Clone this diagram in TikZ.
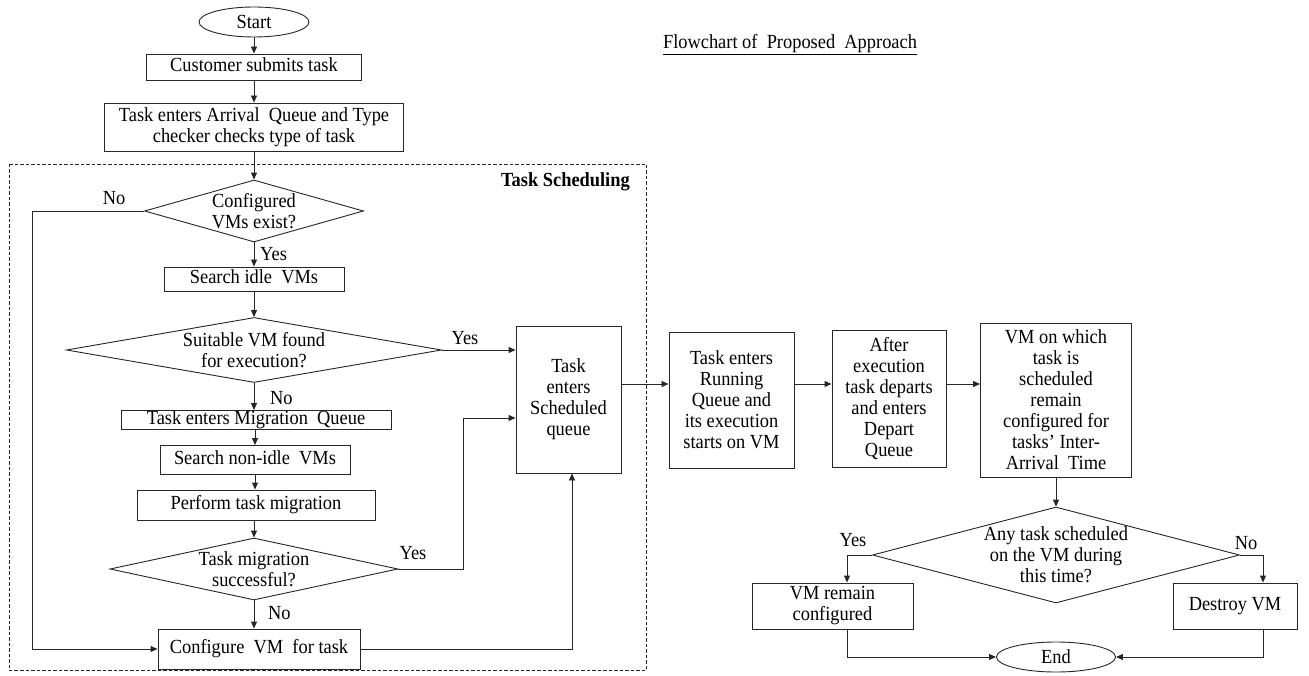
\documentclass[tikz,border=0pt]{standalone}
\usepackage{fontspec}
\setmainfont{Liberation Serif}[FakeStretch=0.92]
\usetikzlibrary{shapes.geometric, arrows.meta}
\newcommand\figfont{\fontsize{20}{21}\selectfont}
\begin{document}
\begin{tikzpicture}[x=1pt,y=-1pt,
  base/.style={draw=black!85, line width=0.9pt, font=\figfont, inner sep=0pt, align=center},
  box/.style={base, rectangle},
  sbox/.style={box, text height=13pt, text depth=4pt},
  term/.style={base, ellipse},
  dia/.style={draw=black!85, line width=0.9pt, diamond, inner sep=0pt},
  txt/.style={font=\figfont, align=center, inner sep=0pt},
  lbl/.style={font=\figfont, inner sep=0pt},
  arr/.style={draw=black!85, line width=0.9pt, -{Triangle[length=7pt,width=6pt]}},
  dashbox/.style={draw=black!85, line width=0.9pt, dash pattern=on 3.5pt off 2pt}
]
\useasboundingbox (0,0) rectangle (1309,676);
\fill[white] (0,0) rectangle (1309,676);

% Task scheduling region
\draw[dashbox] (9,164) rectangle (646,670);
\node[lbl, font=\figfont\bfseries, anchor=east] (tslabel) at (630,182) {Task Scheduling};

% title
\node[lbl] (title) at (790,45) {\underline{Flowchart of\ \ Proposed\ \ Approach}};

% left column
\node[term, minimum width=110pt, minimum height=30pt] (start) at (254,22) {Start};
\node[sbox, minimum width=215pt, minimum height=26pt] (cust) at (254,67) {Customer submits task};
\node[box, minimum width=299pt, minimum height=48pt] (arrival) at (254,127) {Task enters Arrival\ \ Queue and Type\\checker checks type of task};

\node[dia, minimum width=219pt, minimum height=62pt] (cfg) at (254,211) {};
\node[txt] (cfgt) at (cfg) {Configured\\VMs exist?};

\node[sbox, minimum width=180pt, minimum height=24pt] (idle) at (254,279) {Search idle\ \ VMs};

\node[dia, minimum width=375pt, minimum height=65pt] (suit) at (254,350) {};
\node[txt] (suitt) at (suit) {Suitable VM found\\for execution?};

\node[sbox, minimum width=270pt, minimum height=19pt, text height=12pt, text depth=3pt] (mig) at (256,420) {Task enters Migration\ \ Queue};
\node[sbox, minimum width=190pt, minimum height=29pt] (nonidle) at (255,460) {Search non-idle\ \ VMs};
\node[sbox, minimum width=238pt, minimum height=30pt] (perf) at (256,505) {Perform task migration};

\node[dia, minimum width=288pt, minimum height=62pt] (tm) at (254,569) {};
\node[txt] (tmt) at (tm) {Task migration\\successful?};

\node[sbox, minimum width=202pt, minimum height=40pt] (conf) at (259,649) {Configure\ \ VM\ \ for task};

\node[box, minimum width=105pt, minimum height=147pt] (sched) at (568.5,399.5) {Task\\enters\\Scheduled\\queue};

% right part
\node[box, minimum width=125pt, minimum height=136pt] (run) at (731.5,400) {Task enters\\Running\\Queue and\\its execution\\starts on VM};
\node[box, minimum width=114pt, minimum height=137pt] (dep) at (889,398.5) {After\\execution\\task departs\\and enters\\Depart\\Queue};
\node[box, minimum width=151pt, minimum height=154pt] (vm) at (1056,400) {VM on which\\task is\\scheduled\\remain\\configured for\\tasks' Inter-\\Arrival\ \ Time};

\node[dia, minimum width=367pt, minimum height=96pt] (any) at (1056,555) {};
\node[txt] (anyt) at (any) {Any task scheduled\\on the VM during\\this time?};

\node[box, minimum width=161pt, minimum height=46pt] (remain) at (832.5,606) {VM remain\\configured};
\node[sbox, minimum width=124pt, minimum height=46pt] (destroy) at (1235,606) {Destroy VM};
\node[term, minimum width=119pt, minimum height=30pt] (end) at (1056,657) {End};

% labels
\node[lbl] (lno1) at (114,198) {No};
\node[lbl, anchor=west] (lyes1) at (260,254) {Yes};
\node[lbl] (lyes2) at (465,338) {Yes};
\node[lbl, anchor=west] (lno2) at (270,398) {No};
\node[lbl] (lyes3) at (413,553) {Yes};
\node[lbl, anchor=west] (lno3) at (268,613) {No};
\node[lbl] (lyes4) at (853,540) {Yes};
\node[lbl] (lno4) at (1246,543) {No};

% connectors, left column
\draw[arr] (start) -- (cust);
\draw[arr] (cust) -- (arrival);
\draw[arr] (arrival) -- (cfg);
\draw[arr] (cfg) -- (idle);
\draw[arr] (idle) -- (suit);
\draw[arr] (suit.south) -- (suit.south |- mig.north);
\draw[arr] (mig.south -| nonidle.north) -- (nonidle.north);
\draw[arr] (nonidle.south) -- (nonidle.south |- perf.north);
\draw[arr] (perf.south -| tm.north) -- (tm.north);
\draw[arr] (tm.south) -- (tm.south |- conf.north);
\draw[arr] (suit.east) -- (suit.east -| sched.west);

\coordinate (lft) at (32,211);
\draw[arr] (cfg.west) -- (lft) |- (conf.west);

\coordinate (tmj) at (463,569);
\draw[arr] (tm.east) -- (tmj) |- ([yshift=-18.5pt]sched.west);

\draw[arr] (conf.east) -| ([xshift=3.5pt]sched.south);

% connectors, right part
\coordinate (ay) at (0,384);
\draw[arr] (sched.east |- ay) -- (run.west |- ay);
\draw[arr] (run.east |- ay) -- (dep.west |- ay);
\draw[arr] (dep.east |- ay) -- (vm.west |- ay);
\draw[arr] (vm) -- (any);
\draw[arr] (any.west) -| ([xshift=14.5pt]remain.north);
\draw[arr] (any.east) -| ([xshift=28pt]destroy.north);
\draw[arr] ([xshift=14.5pt]remain.south) |- (end.west);
\draw[arr] ([xshift=28pt]destroy.south) |- (end.east);
\end{tikzpicture}
\end{document}
